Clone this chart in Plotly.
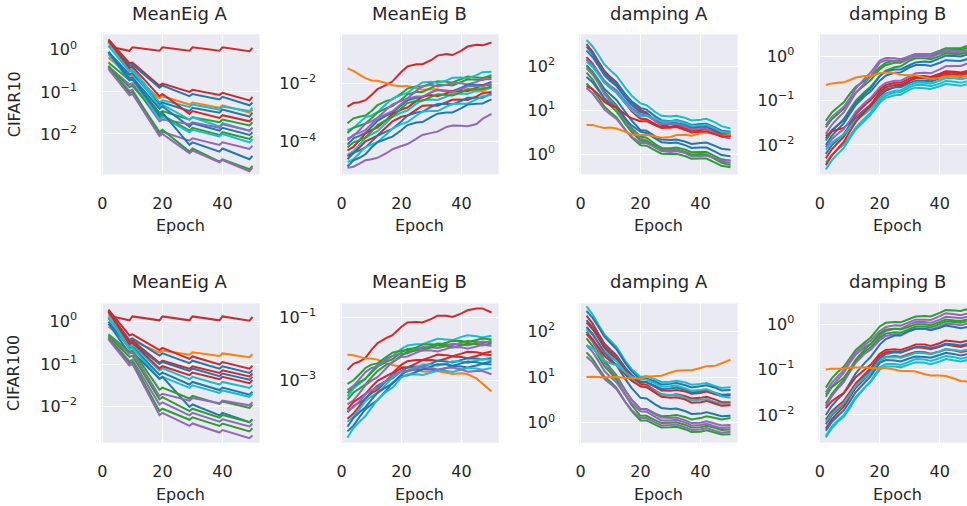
import plotly.graph_objects as go

PALETTE = {"blue": "#1f77b4", "orange": "#ff7f0e", "green": "#2ca02c",
           "red": "#d62728", "purple": "#9467bd", "cyan": "#17becf"}

ROW_LABELS = ["CIFAR10", "CIFAR100"]
PANEL_TITLES = ["MeanEig A", "MeanEig B", "damping A", "damping B"]
X_TICKS = [0, 20, 40]

EPOCHS_A = [2, 9, 10, 19, 20, 29, 30, 39, 40, 49, 50]
EPOCHS_N = [2, 4, 6, 8, 10, 12, 15, 17, 20, 22, 25, 27, 30, 32, 35, 37, 40, 42, 45, 47, 50]

# ---------------- CIFAR10 MeanEig A ----------------
C10_MEANEIG_A_COLORS = ["red", "red", "blue", "orange", "cyan", "blue", "red", "green", "cyan",
                        "blue", "purple", "green", "cyan", "purple", "blue", "green", "purple"]
C10_MEANEIG_A = [
    [1.2, 0.95, 1.15, 0.95, 1.15, 0.95, 1.15, 0.95, 1.15, 0.93, 1.12],
    [1.78, 0.48, 0.5, 0.141, 0.158, 0.1, 0.112, 0.085, 0.095, 0.063, 0.076],
    [1.58, 0.42, 0.45, 0.126, 0.141, 0.079, 0.089, 0.066, 0.076, 0.048, 0.056],
    [0.66, 0.24, 0.25, 0.071, 0.079, 0.05, 0.056, 0.042, 0.048, 0.032, 0.038],
    [1.5, 0.33, 0.35, 0.056, 0.063, 0.044, 0.05, 0.038, 0.045, 0.035, 0.042],
    [0.89, 0.26, 0.28, 0.05, 0.056, 0.035, 0.042, 0.032, 0.038, 0.026, 0.032],
    [1.66, 0.37, 0.4, 0.079, 0.089, 0.03, 0.035, 0.024, 0.028, 0.02, 0.024],
    [0.5, 0.19, 0.2, 0.032, 0.035, 0.022, 0.025, 0.019, 0.022, 0.016, 0.019],
    [1.26, 0.3, 0.32, 0.045, 0.05, 0.022, 0.025, 0.015, 0.018, 0.012, 0.014],
    [0.89, 0.21, 0.22, 0.04, 0.045, 0.015, 0.018, 0.012, 0.014, 0.0095, 0.011],
    [0.4, 0.15, 0.16, 0.02, 0.022, 0.017, 0.019, 0.014, 0.017, 0.012, 0.014],
    [0.4, 0.13, 0.14, 0.025, 0.028, 0.012, 0.014, 0.0095, 0.011, 0.0076, 0.0089],
    [0.79, 0.19, 0.2, 0.022, 0.025, 0.011, 0.0126, 0.0087, 0.01, 0.0063, 0.0076],
    [0.38, 0.105, 0.112, 0.01, 0.0112, 0.0069, 0.0079, 0.0055, 0.0063, 0.0044, 0.0052],
    [0.89, 0.19, 0.2, 0.028, 0.032, 0.0055, 0.0063, 0.0038, 0.0045, 0.0025, 0.003],
    [0.42, 0.093, 0.1, 0.0112, 0.0126, 0.0038, 0.0045, 0.0022, 0.0025, 0.00145, 0.00174],
    [0.35, 0.083, 0.089, 0.0089, 0.01, 0.0035, 0.004, 0.0021, 0.0024, 0.0013, 0.0016],
]

# ---------------- CIFAR10 MeanEig B ----------------
C10_MEANEIG_B_COLORS = ["red", "orange", "green", "cyan", "green", "purple", "blue", "red", "purple",
                        "cyan", "green", "red", "blue", "cyan", "blue", "purple"]
C10_MEANEIG_B = [
    [1.58e-3, 2.1e-3, 2.24e-3, 2.63e-3, 3.98e-3, 6.3e-3, 8.9e-3, 1.17e-2, 2.5e-2, 3.8e-2, 4.5e-2,
     4.5e-2, 6.3e-2, 8.9e-2, 0.1, 9.3e-2, 0.132, 0.182, 0.209, 0.2, 0.25],
    [3.24e-2, 2.66e-2, 2.0e-2, 1.51e-2, 1.26e-2, 1.23e-2, 1.0e-2, 8.5e-3, 7.9e-3, 8.1e-3, 6.8e-3,
     6.0e-3, 6.3e-3, 6.3e-3, 5.0e-3, 4.7e-3, 5.6e-3, 6.2e-3, 5.2e-3, 5.4e-3, 7.1e-3],
    [4.3e-4, 6.3e-4, 7.1e-4, 7.9e-4, 1.12e-3, 1.78e-3, 2.5e-3, 2.8e-3, 4.5e-3, 6.6e-3, 7.9e-3,
     7.6e-3, 1.0e-2, 1.17e-2, 1.12e-2, 1.07e-2, 1.41e-2, 1.7e-2, 1.58e-2, 1.51e-2, 1.9e-2],
    [2.5e-4, 2.95e-4, 4.5e-4, 6.8e-4, 7.9e-4, 1.02e-3, 2.0e-3, 3.0e-3, 4.0e-3, 4.7e-3, 7.9e-3,
     1.07e-2, 1.12e-2, 1.02e-2, 1.26e-2, 1.55e-2, 1.58e-2, 1.48e-2, 1.9e-2, 2.4e-2, 2.5e-2],
    [2.0e-4, 3.0e-4, 3.5e-4, 4.2e-4, 6.3e-4, 1.0e-3, 1.41e-3, 1.66e-3, 2.8e-3, 4.2e-3, 5.0e-3,
     5.0e-3, 7.1e-3, 8.7e-3, 8.9e-3, 8.5e-3, 1.12e-2, 1.38e-2, 1.32e-2, 1.29e-2, 1.66e-2],
    [1.26e-4, 1.58e-4, 2.5e-4, 4.1e-4, 5.0e-4, 6.5e-4, 1.26e-3, 1.9e-3, 2.5e-3, 3.1e-3, 5.6e-3,
     7.9e-3, 8.9e-3, 7.8e-3, 8.9e-3, 1.05e-2, 1.0e-2, 9.1e-3, 1.12e-2, 1.38e-2, 1.41e-2],
    [7.9e-5, 1.29e-4, 1.58e-4, 2.0e-4, 3.2e-4, 5.2e-4, 7.9e-4, 9.8e-4, 1.78e-3, 2.6e-3, 3.2e-3,
     3.3e-3, 5.0e-3, 5.9e-3, 5.6e-3, 5.4e-3, 7.1e-3, 8.9e-3, 8.9e-3, 8.7e-3, 1.12e-2],
    [5.0e-5, 6.6e-5, 1.12e-4, 1.91e-4, 2.5e-4, 3.1e-4, 5.6e-4, 8.9e-4, 1.26e-3, 1.48e-3, 2.5e-3,
     3.5e-3, 4.0e-3, 3.6e-3, 4.5e-3, 5.5e-3, 5.6e-3, 5.4e-3, 7.1e-3, 8.7e-3, 8.9e-3],
    [1.12e-4, 1.7e-4, 2.0e-4, 2.5e-4, 4.0e-4, 6.3e-4, 8.9e-4, 1.1e-3, 2.0e-3, 2.95e-3, 3.5e-3,
     3.5e-3, 5.0e-3, 5.9e-3, 5.6e-3, 5.1e-3, 6.3e-3, 7.9e-3, 7.9e-3, 7.8e-3, 1.0e-2],
    [3.5e-5, 4.7e-5, 7.9e-5, 1.35e-4, 1.78e-4, 2.3e-4, 4.5e-4, 7.1e-4, 1.0e-3, 1.17e-3, 2.0e-3,
     2.7e-3, 2.8e-3, 2.7e-3, 3.5e-3, 4.4e-3, 4.5e-3, 4.3e-3, 5.6e-3, 6.9e-3, 7.1e-3],
    [6.3e-5, 9.5e-5, 1.12e-4, 1.41e-4, 2.24e-4, 3.7e-4, 5.6e-4, 7.2e-4, 1.41e-3, 2.1e-3, 2.5e-3,
     2.5e-3, 3.5e-3, 4.2e-3, 4.0e-3, 3.8e-3, 5.0e-3, 6.3e-3, 6.3e-3, 6.2e-3, 7.9e-3],
    [3.2e-5, 4.0e-5, 6.3e-5, 1.02e-4, 1.26e-4, 1.62e-4, 3.2e-4, 5.0e-4, 7.1e-4, 7.9e-4, 1.26e-3,
     1.7e-3, 1.78e-3, 1.7e-3, 2.24e-3, 2.75e-3, 2.8e-3, 2.7e-3, 3.5e-3, 4.6e-3, 5.0e-3],
    [2.5e-5, 4.1e-5, 5.0e-5, 6.3e-5, 1.0e-4, 1.58e-4, 2.24e-4, 2.75e-4, 5.0e-4, 7.8e-4, 1.0e-3,
     1.05e-3, 1.58e-3, 1.95e-3, 2.0e-3, 1.9e-3, 2.5e-3, 3.2e-3, 3.2e-3, 3.2e-3, 4.5e-3],
    [2.0e-5, 2.5e-5, 4.0e-5, 6.5e-5, 7.9e-5, 9.8e-5, 1.78e-4, 2.8e-4, 4.0e-4, 4.7e-4, 7.9e-4,
     1.07e-3, 1.12e-3, 1.12e-3, 1.58e-3, 1.95e-3, 2.0e-3, 2.0e-3, 2.8e-3, 3.6e-3, 4.0e-3],
    [1.41e-5, 2.3e-5, 2.8e-5, 3.7e-5, 6.3e-5, 9.5e-5, 1.26e-4, 1.48e-4, 2.5e-4, 3.7e-4, 4.5e-4,
     4.7e-4, 7.1e-4, 9.1e-4, 1.0e-3, 1.0e-3, 1.41e-3, 1.86e-3, 2.0e-3, 2.04e-3, 2.8e-3],
    [1.26e-5, 1.38e-5, 1.78e-5, 2.3e-5, 2.5e-5, 2.8e-5, 4.0e-5, 5.5e-5, 7.1e-5, 8.3e-5, 1.26e-4,
     1.7e-4, 2.0e-4, 2.2e-4, 3.2e-4, 3.6e-4, 3.5e-4, 3.4e-4, 4.0e-4, 6.0e-4, 8.9e-4],
]

# ---------------- CIFAR10 damping A ----------------
C10_DAMPING_A_COLORS = ["cyan", "red", "blue", "blue", "red", "purple", "cyan", "blue", "green",
                        "purple", "green", "blue", "green", "purple", "orange", "red"]
C10_DAMPING_A = [
    [389, 282, 178, 108, 79, 60, 31.6, 21.4, 14.1, 12.9, 8.9, 7.4, 7.1, 7.4, 6.6, 5.8, 6.0, 6.3, 5.2, 4.3, 3.8],
    [316, 214, 126, 77, 56, 43, 22.4, 15.1, 10, 8.7, 5.6, 4.6, 4.2, 4.5, 4.2, 3.7, 4.0, 4.1, 3.3, 2.9, 2.8],
    [275, 188, 112, 68, 50, 40, 22.4, 15.8, 11.2, 10.2, 7.1, 5.9, 5.6, 5.9, 5.2, 4.6, 4.8, 4.9, 4.0, 3.4, 3.2],
    [224, 160, 100, 61, 45, 35, 19, 13.2, 8.9, 8.3, 6.0, 5.1, 5.0, 5.1, 4.6, 4.0, 4.2, 4.3, 3.5, 2.9, 2.5],
    [158, 114, 71, 43, 31.6, 25, 14.1, 9.5, 6.3, 6.2, 4.8, 4.1, 4.0, 4.2, 3.8, 3.4, 3.5, 3.7, 3.2, 2.75, 2.6],
    [141, 107, 71, 46, 35, 28, 15.8, 11.2, 7.9, 7.6, 5.6, 4.8, 4.8, 4.9, 4.2, 3.6, 3.8, 3.8, 3.0, 2.5, 2.24],
    [126, 95, 63, 41, 31.6, 25, 14.1, 10, 7.1, 7.4, 6.3, 5.5, 5.6, 5.8, 5.0, 4.4, 4.5, 4.6, 3.8, 3.2, 3.0],
    [100, 74, 48, 30, 22.4, 17, 8.9, 5.8, 3.5, 3.4, 2.5, 2.14, 2.1, 2.14, 1.9, 1.7, 1.78, 1.82, 1.51, 1.32, 1.26],
    [105, 73, 45, 26, 17.8, 12.9, 6.3, 3.9, 2.5, 2.34, 1.66, 1.38, 1.35, 1.41, 1.26, 1.1, 1.12, 1.12, 0.89, 0.76, 0.71],
    [89, 64, 40, 23, 15.8, 11.5, 5.6, 3.6, 2.24, 2.04, 1.41, 1.17, 1.12, 1.17, 1.05, 0.91, 0.95, 0.98, 0.79, 0.68, 0.63],
    [71, 50, 30, 17.8, 12.6, 9.3, 4.8, 3.2, 2.0, 1.95, 1.51, 1.29, 1.26, 1.29, 1.12, 0.98, 1.0, 0.98, 0.76, 0.63, 0.56],
    [56, 43, 28, 18.2, 14.1, 11.2, 6.3, 4.5, 3.2, 3.0, 2.24, 1.86, 1.78, 1.82, 1.58, 1.38, 1.41, 1.41, 1.12, 0.95, 0.89],
    [40, 29.5, 19, 11.9, 8.9, 6.8, 3.5, 2.4, 1.58, 1.55, 1.2, 1.02, 1.0, 1.02, 0.89, 0.78, 0.79, 0.79, 0.63, 0.54, 0.5],
    [31.6, 24, 15.8, 10.2, 7.9, 6.3, 3.5, 2.5, 1.78, 1.78, 1.41, 1.2, 1.2, 1.23, 1.05, 0.89, 0.89, 0.93, 0.79, 0.71, 0.71],
    [4.6, 4.6, 4.2, 3.9, 4.0, 3.8, 3.2, 2.8, 2.7, 2.75, 2.5, 2.34, 2.45, 2.7, 2.75, 2.6, 2.95, 3.1, 2.8, 2.6, 2.7],
    [35, 30, 22.4, 15.3, 12.6, 11.5, 7.9, 6.5, 5.6, 5.6, 4.5, 3.9, 4.0, 4.1, 3.5, 3.1, 3.2, 3.3, 2.8, 2.5, 2.5],
]

# ---------------- CIFAR10 damping B ----------------
C10_DAMPING_B_COLORS = ["green", "green", "purple", "purple", "green", "blue", "blue", "red", "red",
                        "blue", "cyan", "purple", "cyan", "cyan", "red", "orange"]
C10_DAMPING_B = [
    [0.035, 0.054, 0.071, 0.091, 0.141, 0.204, 0.28, 0.35, 0.56, 0.71, 0.79, 0.79, 1.0, 1.12, 1.12, 1.1, 1.32, 1.51, 1.51, 1.51, 1.78],
    [0.025, 0.038, 0.05, 0.065, 0.1, 0.151, 0.224, 0.29, 0.5, 0.63, 0.71, 0.71, 0.89, 1.0, 1.0, 0.98, 1.2, 1.41, 1.41, 1.38, 1.58],
    [0.028, 0.043, 0.056, 0.072, 0.112, 0.186, 0.316, 0.43, 0.79, 0.91, 0.89, 0.85, 1.0, 1.12, 1.12, 1.07, 1.26, 1.41, 1.32, 1.26, 1.41],
    [0.0178, 0.0285, 0.04, 0.054, 0.089, 0.148, 0.25, 0.355, 0.71, 0.81, 0.79, 0.76, 0.89, 1.0, 1.0, 0.95, 1.12, 1.26, 1.2, 1.15, 1.26],
    [0.0126, 0.0202, 0.028, 0.0385, 0.063, 0.1, 0.158, 0.204, 0.355, 0.47, 0.56, 0.59, 0.79, 0.89, 0.89, 0.85, 1.0, 1.15, 1.12, 1.1, 1.26],
    [0.0141, 0.0214, 0.028, 0.036, 0.056, 0.089, 0.141, 0.19, 0.355, 0.45, 0.5, 0.5, 0.63, 0.72, 0.76, 0.74, 0.89, 1.02, 1.0, 0.98, 1.12],
    [0.01, 0.016, 0.0224, 0.0305, 0.05, 0.079, 0.126, 0.162, 0.28, 0.363, 0.42, 0.43, 0.56, 0.63, 0.63, 0.6, 0.71, 0.81, 0.79, 0.78, 0.89],
    [0.0158, 0.0202, 0.0224, 0.0243, 0.0316, 0.05, 0.079, 0.102, 0.178, 0.224, 0.25, 0.25, 0.316, 0.355, 0.355, 0.34, 0.4, 0.457, 0.447, 0.427, 0.48],
    [0.005, 0.008, 0.0112, 0.0153, 0.025, 0.038, 0.056, 0.072, 0.126, 0.166, 0.2, 0.209, 0.28, 0.316, 0.316, 0.3, 0.355, 0.4, 0.38, 0.37, 0.42],
    [0.0063, 0.0098, 0.0132, 0.0176, 0.028, 0.043, 0.063, 0.081, 0.141, 0.178, 0.2, 0.2, 0.25, 0.28, 0.28, 0.27, 0.316, 0.363, 0.355, 0.34, 0.38],
    [0.0079, 0.0114, 0.0141, 0.0172, 0.025, 0.036, 0.05, 0.065, 0.112, 0.145, 0.166, 0.17, 0.224, 0.25, 0.25, 0.24, 0.28, 0.32, 0.316, 0.3, 0.33],
    [0.0089, 0.0135, 0.0178, 0.0229, 0.035, 0.056, 0.089, 0.115, 0.2, 0.25, 0.28, 0.28, 0.355, 0.41, 0.42, 0.41, 0.5, 0.59, 0.6, 0.6, 0.71],
    [0.004, 0.006, 0.0079, 0.0102, 0.0158, 0.025, 0.04, 0.054, 0.1, 0.129, 0.151, 0.155, 0.2, 0.224, 0.224, 0.209, 0.24, 0.275, 0.263, 0.25, 0.28],
    [0.0028, 0.0045, 0.0063, 0.0086, 0.0141, 0.0224, 0.035, 0.048, 0.089, 0.115, 0.132, 0.135, 0.178, 0.195, 0.19, 0.182, 0.209, 0.234, 0.224, 0.214, 0.24],
    [0.0035, 0.0058, 0.0083, 0.0117, 0.02, 0.033, 0.056, 0.079, 0.158, 0.2, 0.224, 0.224, 0.28, 0.324, 0.33, 0.316, 0.38, 0.437, 0.417, 0.4, 0.447],
    [0.224, 0.243, 0.25, 0.257, 0.29, 0.33, 0.355, 0.355, 0.41, 0.427, 0.417, 0.38, 0.37, 0.37, 0.33, 0.31, 0.316, 0.347, 0.355, 0.347, 0.37],
]

# ---------------- CIFAR100 MeanEig A ----------------
C100_MEANEIG_A_COLORS = ["red", "orange", "red", "blue", "red", "blue", "cyan", "blue", "red",
                         "cyan", "blue", "green", "purple", "green", "purple", "green", "purple"]
C100_MEANEIG_A = [
    [1.38, 1.07, 1.32, 1.07, 1.32, 1.07, 1.32, 1.07, 1.32, 1.05, 1.29],
    [0.76, 0.33, 0.355, 0.186, 0.209, 0.166, 0.19, 0.155, 0.178, 0.145, 0.17],
    [1.9, 0.47, 0.5, 0.214, 0.24, 0.132, 0.151, 0.098, 0.112, 0.078, 0.091],
    [1.66, 0.37, 0.4, 0.158, 0.178, 0.105, 0.12, 0.078, 0.089, 0.062, 0.072],
    [1.78, 0.33, 0.355, 0.107, 0.12, 0.078, 0.089, 0.062, 0.071, 0.051, 0.06],
    [1.2, 0.295, 0.316, 0.1, 0.112, 0.069, 0.079, 0.052, 0.06, 0.043, 0.05],
    [1.58, 0.263, 0.28, 0.071, 0.079, 0.044, 0.05, 0.033, 0.038, 0.0275, 0.032],
    [1.0, 0.234, 0.25, 0.056, 0.063, 0.033, 0.038, 0.0245, 0.028, 0.019, 0.0224],
    [1.74, 0.295, 0.316, 0.079, 0.089, 0.055, 0.063, 0.044, 0.05, 0.0355, 0.042],
    [1.26, 0.224, 0.24, 0.045, 0.05, 0.0275, 0.0316, 0.021, 0.024, 0.017, 0.02],
    [0.89, 0.178, 0.19, 0.045, 0.05, 0.0098, 0.0112, 0.0062, 0.0071, 0.0043, 0.005],
    [0.5, 0.195, 0.209, 0.025, 0.028, 0.0155, 0.0178, 0.0115, 0.0132, 0.0093, 0.011],
    [0.45, 0.178, 0.19, 0.0178, 0.02, 0.0138, 0.0158, 0.012, 0.0138, 0.0107, 0.0126],
    [0.45, 0.148, 0.158, 0.0148, 0.0166, 0.0078, 0.0089, 0.0055, 0.0063, 0.0043, 0.005],
    [0.42, 0.117, 0.126, 0.0112, 0.0126, 0.0062, 0.0071, 0.0044, 0.005, 0.0034, 0.004],
    [0.4, 0.105, 0.112, 0.0079, 0.0089, 0.0049, 0.0056, 0.0035, 0.004, 0.0026, 0.0031],
    [0.38, 0.093, 0.1, 0.0063, 0.0071, 0.0035, 0.004, 0.00245, 0.0028, 0.0018, 0.0021],
]

# ---------------- CIFAR100 MeanEig B ----------------
C100_MEANEIG_B_COLORS = ["red", "orange", "cyan", "green", "green", "purple", "green", "purple", "red",
                         "red", "blue", "cyan", "blue", "blue", "cyan", "purple"]
C100_MEANEIG_B = [
    [2.2e-3, 3.4e-3, 4.0e-3, 5.2e-3, 9.3e-3, 1.51e-2, 2.24e-2, 2.7e-2, 5.0e-2, 6.8e-2, 7.1e-2,
     6.8e-2, 8.9e-2, 0.112, 0.112, 0.102, 0.132, 0.166, 0.19, 0.19, 0.141],
    [6.5e-3, 6.3e-3, 5.6e-3, 5.0e-3, 5.0e-3, 4.6e-3, 3.5e-3, 3.1e-3, 2.75e-3, 2.7e-3, 2.24e-3,
     1.95e-3, 1.9e-3, 2.0e-3, 1.78e-3, 1.62e-3, 1.7e-3, 1.58e-3, 1.17e-3, 7.9e-4, 4.5e-4],
    [3.2e-4, 5.6e-4, 7.9e-4, 1.15e-3, 2.0e-3, 3.2e-3, 5.0e-3, 5.9e-3, 1.0e-2, 1.29e-2, 1.41e-2,
     1.41e-2, 1.78e-2, 2.1e-2, 2.0e-2, 1.9e-2, 2.4e-2, 2.7e-2, 2.5e-2, 2.3e-2, 2.6e-2],
    [7.9e-4, 1.02e-3, 1.58e-3, 2.5e-3, 3.2e-3, 3.5e-3, 5.6e-3, 7.6e-3, 8.9e-3, 8.9e-3, 1.12e-2,
     1.38e-2, 1.41e-2, 1.32e-2, 1.58e-2, 1.82e-2, 1.78e-2, 1.62e-2, 1.9e-2, 2.14e-2, 2.0e-2],
    [4.0e-4, 6.6e-4, 8.9e-4, 1.15e-3, 1.78e-3, 2.75e-3, 4.0e-3, 4.7e-3, 7.9e-3, 1.0e-2, 1.05e-2,
     1.02e-2, 1.26e-2, 1.48e-2, 1.41e-2, 1.32e-2, 1.58e-2, 1.78e-2, 1.66e-2, 1.51e-2, 1.78e-2],
    [5.0e-4, 6.8e-4, 1.12e-3, 1.86e-3, 2.5e-3, 2.8e-3, 4.5e-3, 6.0e-3, 7.1e-3, 7.2e-3, 9.5e-3,
     1.15e-2, 1.12e-2, 1.05e-2, 1.26e-2, 1.45e-2, 1.41e-2, 1.29e-2, 1.51e-2, 1.7e-2, 1.58e-2],
    [2.5e-4, 4.2e-4, 5.6e-4, 7.6e-4, 1.26e-3, 2.0e-3, 3.2e-3, 3.7e-3, 6.3e-3, 8.1e-3, 8.9e-3,
     8.9e-3, 1.12e-2, 1.29e-2, 1.2e-2, 1.12e-2, 1.32e-2, 1.48e-2, 1.41e-2, 1.29e-2, 1.51e-2],
    [1.78e-4, 2.4e-4, 4.0e-4, 7.1e-4, 1.0e-3, 1.29e-3, 2.5e-3, 3.9e-3, 5.6e-3, 5.8e-3, 7.6e-3,
     9.1e-3, 8.9e-3, 8.3e-3, 1.0e-2, 1.15e-2, 1.12e-2, 1.02e-2, 1.2e-2, 1.35e-2, 1.26e-2],
    [1.26e-4, 2.1e-4, 2.8e-4, 3.8e-4, 6.3e-4, 9.8e-4, 1.41e-3, 1.74e-3, 3.2e-3, 4.1e-3, 4.5e-3,
     4.5e-3, 5.6e-3, 6.6e-3, 6.3e-3, 5.9e-3, 7.1e-3, 8.1e-3, 7.9e-3, 7.2e-3, 8.3e-3],
    [6.3e-5, 9.1e-5, 1.58e-4, 2.8e-4, 4.0e-4, 5.1e-4, 1.0e-3, 1.62e-3, 2.5e-3, 2.6e-3, 3.5e-3,
     4.4e-3, 4.5e-3, 4.2e-3, 5.0e-3, 5.8e-3, 5.6e-3, 5.1e-3, 6.0e-3, 6.8e-3, 6.3e-3],
    [1.0e-4, 1.58e-4, 2.0e-4, 2.7e-4, 4.5e-4, 6.9e-4, 1.0e-3, 1.17e-3, 2.0e-3, 2.6e-3, 2.8e-3,
     2.8e-3, 3.5e-3, 4.2e-3, 4.0e-3, 3.7e-3, 4.5e-3, 5.1e-3, 5.0e-3, 4.6e-3, 5.2e-3],
    [5.0e-5, 7.2e-5, 1.26e-4, 2.24e-4, 3.2e-4, 4.1e-4, 7.9e-4, 1.29e-3, 2.0e-3, 2.04e-3, 2.6e-3,
     3.2e-3, 3.2e-3, 2.95e-3, 3.5e-3, 4.1e-3, 4.0e-3, 3.6e-3, 4.3e-3, 4.8e-3, 4.5e-3],
    [3.5e-5, 6.6e-5, 1.0e-4, 1.45e-4, 2.5e-4, 4.1e-4, 6.3e-4, 8.1e-4, 1.58e-3, 2.04e-3, 2.24e-3,
     2.24e-3, 2.8e-3, 3.3e-3, 3.2e-3, 2.95e-3, 3.5e-3, 4.0e-3, 3.8e-3, 3.5e-3, 4.0e-3],
    [2.5e-5, 3.8e-5, 7.1e-5, 1.26e-4, 1.78e-4, 2.4e-4, 5.0e-4, 8.5e-4, 1.41e-3, 1.45e-3, 1.9e-3,
     2.3e-3, 2.24e-3, 2.1e-3, 2.5e-3, 2.9e-3, 2.8e-3, 2.6e-3, 3.0e-3, 3.4e-3, 3.2e-3],
    [1.58e-5, 3.2e-5, 5.0e-5, 7.6e-5, 1.41e-4, 2.5e-4, 4.5e-4, 6.0e-4, 1.26e-3, 1.55e-3, 1.58e-3,
     1.51e-3, 1.78e-3, 2.1e-3, 2.0e-3, 1.86e-3, 2.24e-3, 2.5e-3, 2.4e-3, 2.2e-3, 2.5e-3],
    [1.12e-4, 1.45e-4, 2.24e-4, 3.7e-4, 5.0e-4, 5.9e-4, 1.0e-3, 1.48e-3, 2.0e-3, 1.95e-3, 2.4e-3,
     2.75e-3, 2.5e-3, 2.24e-3, 2.5e-3, 2.6e-3, 2.24e-3, 1.9e-3, 2.0e-3, 2.0e-3, 1.58e-3],
]

# ---------------- CIFAR100 damping A ----------------
C100_DAMPING_A_COLORS = ["cyan", "blue", "red", "blue", "red", "cyan", "blue", "green", "purple",
                         "green", "purple", "green", "purple", "red", "cyan", "orange"]
C100_DAMPING_A = [
    [355, 240, 141, 86, 63, 46, 22.4, 15.1, 10, 10.5, 8.9, 7.8, 7.9, 8.3, 7.6, 6.8, 7.1, 7.4, 6.3, 5.8, 6.0],
    [282, 202, 126, 77, 56, 41, 20, 13.5, 8.9, 9.3, 7.9, 6.9, 7.1, 7.4, 6.6, 5.9, 6.3, 6.6, 5.8, 5.1, 5.2],
    [224, 151, 89, 54, 40, 30, 15.8, 11.2, 7.9, 7.8, 6.0, 5.1, 5.0, 5.2, 4.8, 4.3, 4.5, 4.8, 4.2, 3.8, 4.0],
    [178, 127, 79, 48, 35, 28, 15.8, 11, 7.6, 7.8, 6.3, 5.5, 5.6, 5.9, 5.2, 4.6, 4.8, 5.1, 4.5, 4.1, 4.2],
    [158, 114, 71, 43, 31.6, 25, 14.1, 10, 7.1, 6.8, 5.0, 4.2, 4.0, 4.2, 3.8, 3.4, 3.5, 3.7, 3.2, 2.8, 2.8],
    [112, 85, 56, 36, 28, 22.4, 12.6, 8.9, 6.3, 6.2, 4.8, 4.1, 4.0, 4.1, 3.5, 3.1, 3.2, 3.3, 2.8, 2.6, 2.6],
    [126, 90, 56, 34, 25, 18.2, 8.9, 5.8, 3.5, 3.4, 2.5, 2.1, 2.0, 2.04, 1.78, 1.55, 1.58, 1.7, 1.51, 1.38, 1.41],
    [100, 68, 40, 23, 15.8, 11, 5.0, 3.2, 2.0, 2.0, 1.58, 1.38, 1.41, 1.48, 1.32, 1.17, 1.26, 1.38, 1.26, 1.17, 1.26],
    [89, 60, 35, 20.4, 14.1, 10.2, 5.0, 3.2, 2.0, 1.95, 1.51, 1.29, 1.26, 1.29, 1.12, 0.98, 1.0, 1.07, 0.95, 0.87, 0.89],
    [71, 48, 28, 17.2, 12.6, 8.7, 4.0, 2.45, 1.41, 1.41, 1.12, 0.98, 1.0, 1.02, 0.89, 0.78, 0.79, 0.85, 0.76, 0.69, 0.71],
    [50, 36, 22.4, 13.6, 10, 7.6, 4.0, 2.7, 1.78, 1.74, 1.32, 1.12, 1.12, 1.15, 1.0, 0.87, 0.89, 0.95, 0.83, 0.76, 0.79],
    [35, 25, 15.8, 10.2, 7.9, 5.8, 2.8, 1.82, 1.12, 1.12, 0.89, 0.78, 0.79, 0.81, 0.71, 0.62, 0.63, 0.68, 0.6, 0.55, 0.56],
    [28, 21.4, 14.1, 9.1, 7.1, 5.4, 2.8, 1.9, 1.26, 1.26, 1.0, 0.87, 0.89, 0.91, 0.79, 0.69, 0.71, 0.76, 0.66, 0.6, 0.63],
    [89, 68, 45, 29, 22.4, 18.6, 11.2, 8.3, 6.3, 6.0, 4.5, 3.7, 3.5, 3.6, 3.2, 2.75, 2.8, 3.0, 2.6, 2.34, 2.4],
    [50, 43, 31.6, 23, 20, 18.2, 12.6, 10.2, 8.9, 8.9, 7.1, 6.2, 6.3, 6.5, 5.6, 5.0, 5.2, 5.4, 4.5, 3.8, 3.5],
    [10, 10.2, 10, 9.8, 10, 10, 9.5, 9.3, 9.3, 10.2, 10.5, 10.7, 12.6, 13.8, 14.1, 14.1, 15.8, 17.4, 17.8, 20, 24],
]

# ---------------- CIFAR100 damping B ----------------
C100_DAMPING_B_COLORS = ["green", "purple", "purple", "green", "purple", "green", "blue", "red", "red",
                         "blue", "red", "cyan", "blue", "cyan", "cyan", "orange"]
C100_DAMPING_B = [
    [0.04, 0.064, 0.089, 0.115, 0.178, 0.27, 0.4, 0.51, 0.89, 1.07, 1.12, 1.1, 1.32, 1.48, 1.51, 1.48, 1.78, 2.04, 2.0, 1.95, 2.24],
    [0.0316, 0.051, 0.071, 0.097, 0.158, 0.24, 0.355, 0.437, 0.71, 0.87, 0.95, 0.93, 1.12, 1.26, 1.26, 1.23, 1.51, 1.74, 1.66, 1.58, 1.78],
    [0.025, 0.042, 0.06, 0.084, 0.141, 0.214, 0.316, 0.37, 0.56, 0.71, 0.79, 0.79, 1.0, 1.12, 1.12, 1.07, 1.26, 1.45, 1.41, 1.35, 1.51],
    [0.0178, 0.029, 0.042, 0.059, 0.1, 0.158, 0.25, 0.31, 0.5, 0.62, 0.66, 0.65, 0.79, 0.89, 0.89, 0.85, 1.0, 1.15, 1.12, 1.07, 1.2],
    [0.0158, 0.026, 0.038, 0.053, 0.089, 0.141, 0.224, 0.275, 0.447, 0.55, 0.6, 0.59, 0.71, 0.79, 0.79, 0.76, 0.89, 1.02, 1.0, 0.95, 1.05],
    [0.028, 0.041, 0.052, 0.066, 0.1, 0.166, 0.28, 0.363, 0.63, 0.76, 0.79, 0.76, 0.89, 1.0, 1.0, 0.95, 1.12, 1.26, 1.2, 1.17, 1.32],
    [0.01, 0.016, 0.0224, 0.0305, 0.05, 0.083, 0.141, 0.19, 0.355, 0.47, 0.56, 0.56, 0.71, 0.79, 0.79, 0.74, 0.83, 0.93, 0.87, 0.81, 0.89],
    [0.0141, 0.0202, 0.025, 0.0305, 0.045, 0.068, 0.1, 0.129, 0.224, 0.27, 0.28, 0.27, 0.316, 0.355, 0.355, 0.33, 0.38, 0.437, 0.417, 0.4, 0.447],
    [0.0079, 0.012, 0.0158, 0.0204, 0.0316, 0.05, 0.079, 0.107, 0.2, 0.24, 0.25, 0.24, 0.28, 0.31, 0.3, 0.28, 0.316, 0.355, 0.33, 0.316, 0.355],
    [0.0063, 0.0098, 0.0132, 0.0176, 0.028, 0.045, 0.071, 0.095, 0.178, 0.219, 0.24, 0.234, 0.28, 0.316, 0.316, 0.295, 0.33, 0.37, 0.355, 0.34, 0.38],
    [0.005, 0.008, 0.0112, 0.0153, 0.025, 0.04, 0.063, 0.085, 0.158, 0.19, 0.2, 0.19, 0.224, 0.245, 0.24, 0.224, 0.25, 0.28, 0.263, 0.245, 0.263],
    [0.0071, 0.0107, 0.0141, 0.0182, 0.028, 0.044, 0.066, 0.087, 0.158, 0.186, 0.19, 0.182, 0.209, 0.234, 0.229, 0.219, 0.25, 0.28, 0.27, 0.257, 0.28],
    [0.0045, 0.007, 0.0095, 0.0126, 0.02, 0.032, 0.052, 0.072, 0.141, 0.162, 0.158, 0.151, 0.178, 0.195, 0.19, 0.182, 0.209, 0.234, 0.219, 0.204, 0.224],
    [0.0032, 0.0051, 0.0071, 0.0091, 0.0141, 0.0234, 0.04, 0.056, 0.112, 0.132, 0.132, 0.126, 0.151, 0.17, 0.166, 0.155, 0.178, 0.2, 0.186, 0.174, 0.19],
    [0.0035, 0.0056, 0.0076, 0.01, 0.0158, 0.025, 0.04, 0.054, 0.1, 0.117, 0.117, 0.112, 0.132, 0.145, 0.141, 0.132, 0.151, 0.17, 0.158, 0.151, 0.166],
    [0.1, 0.105, 0.105, 0.105, 0.11, 0.112, 0.112, 0.107, 0.105, 0.107, 0.1, 0.093, 0.093, 0.091, 0.079, 0.074, 0.074, 0.072, 0.063, 0.056, 0.054],
]

# y-axis tick values / labels per panel
Y_TICKS = [
    [1, 0.1, 0.01], [1e-2, 1e-4], [100, 10, 1], [1, 0.1, 0.01],
    [1, 0.1, 0.01], [1e-1, 1e-3], [100, 10, 1], [1, 0.1, 0.01],
]
Y_TICK_TEXT = [
    ["10<sup>0</sup>", "10<sup>\u22121</sup>", "10<sup>\u22122</sup>"],
    ["10<sup>\u22122</sup>", "10<sup>\u22124</sup>"],
    ["10<sup>2</sup>", "10<sup>1</sup>", "10<sup>0</sup>"],
    ["10<sup>0</sup>", "10<sup>\u22121</sup>", "10<sup>\u22122</sup>"],
    ["10<sup>0</sup>", "10<sup>\u22121</sup>", "10<sup>\u22122</sup>"],
    ["10<sup>\u22121</sup>", "10<sup>\u22123</sup>"],
    ["10<sup>2</sup>", "10<sup>1</sup>", "10<sup>0</sup>"],
    ["10<sup>0</sup>", "10<sup>\u22121</sup>", "10<sup>\u22122</sup>"],
]

PANELS = [
    (EPOCHS_A, C10_MEANEIG_A_COLORS, C10_MEANEIG_A),
    (EPOCHS_N, C10_MEANEIG_B_COLORS, C10_MEANEIG_B),
    (EPOCHS_N, C10_DAMPING_A_COLORS, C10_DAMPING_A),
    (EPOCHS_N, C10_DAMPING_B_COLORS, C10_DAMPING_B),
    (EPOCHS_A, C100_MEANEIG_A_COLORS, C100_MEANEIG_A),
    (EPOCHS_N, C100_MEANEIG_B_COLORS, C100_MEANEIG_B),
    (EPOCHS_N, C100_DAMPING_A_COLORS, C100_DAMPING_A),
    (EPOCHS_N, C100_DAMPING_B_COLORS, C100_DAMPING_B),
]

# ---------------- layout geometry ----------------
W, H = 967, 506
X_DOMAINS = [[0.1010, 0.2655], [0.3492, 0.5137], [0.5974, 0.7619], [0.8459, 1.0]]
Y_DOMAINS = [[0.6555, 0.9322], [0.1251, 0.4006]]
X_RANGES = [[-0.4, 52.4], [-0.4, 52.4], [-0.4, 52.4], [-0.4, 49.1]]
Y_RANGES = [[-2.96, 0.37], [-5.12, -0.32], [-0.46, 2.72], [-2.66, 0.49],
            [-2.85, 0.43], [-4.96, -0.56], [-0.44, 2.62], [-2.61, 0.46]]

FONT = "DejaVu Sans"
TXT = "#262626"

fig = go.Figure()
layout = dict(
    width=W, height=H, margin=dict(l=0, r=0, t=0, b=0),
    paper_bgcolor="white", plot_bgcolor="#EAEAF2",
    showlegend=False, font=dict(family=FONT, color=TXT, size=16),
)
annotations = []

for i, (epochs, colors, series) in enumerate(PANELS):
    k = i + 1
    r, c = divmod(i, 4)
    xs = "x" if k == 1 else f"x{k}"
    ys = "y" if k == 1 else f"y{k}"
    for col, vals in zip(colors, series):
        fig.add_trace(go.Scatter(
            x=epochs, y=vals, mode="lines", xaxis=xs, yaxis=ys,
            line=dict(color=PALETTE[col], width=2), hoverinfo="skip",
        ))
    layout["xaxis" if k == 1 else f"xaxis{k}"] = dict(
        domain=X_DOMAINS[c], anchor=ys, range=X_RANGES[c],
        tickvals=X_TICKS, ticks="outside", ticklen=14, tickcolor="rgba(0,0,0,0)",
        showgrid=True, gridcolor="white", gridwidth=1.3, zeroline=False,
        showline=False, tickfont=dict(size=16, color=TXT, family=FONT),
    )
    layout["yaxis" if k == 1 else f"yaxis{k}"] = dict(
        domain=Y_DOMAINS[r], anchor=xs, type="log", range=Y_RANGES[i],
        tickvals=Y_TICKS[i], ticktext=Y_TICK_TEXT[i],
        ticks="outside", ticklen=20, tickcolor="rgba(0,0,0,0)",
        showgrid=True, gridcolor="white", gridwidth=1.3, zeroline=False,
        showline=False, tickfont=dict(size=16, color=TXT, family=FONT),
    )
    xc = X_DOMAINS[c][0] + (X_DOMAINS[0][1] - X_DOMAINS[0][0]) / 2
    title_y = [1 - 14 / H, 1 - 281 / H][r]
    label_y = [1 - 225 / H, 1 - 494 / H][r]
    annotations.append(dict(text=PANEL_TITLES[c], x=xc, y=title_y, xref="paper", yref="paper",
                            xanchor="center", yanchor="middle", showarrow=False,
                            font=dict(size=18, color=TXT, family=FONT)))
    annotations.append(dict(text="Epoch", x=xc, y=label_y, xref="paper", yref="paper",
                            xanchor="center", yanchor="middle", showarrow=False,
                            font=dict(size=16, color=TXT, family=FONT)))

for r, name in enumerate(ROW_LABELS):
    yc = (Y_DOMAINS[r][0] + Y_DOMAINS[r][1]) / 2
    annotations.append(dict(text=name, x=10 / W, y=yc, xref="paper", yref="paper",
                            xanchor="center", yanchor="middle", textangle=-90, showarrow=False,
                            font=dict(size=16, color=TXT, family=FONT)))

layout["annotations"] = annotations
fig.update_layout(**layout)
fig.write_html("out.html", config={"displayModeBar": False},
               post_script="document.body.style.margin='0';")
